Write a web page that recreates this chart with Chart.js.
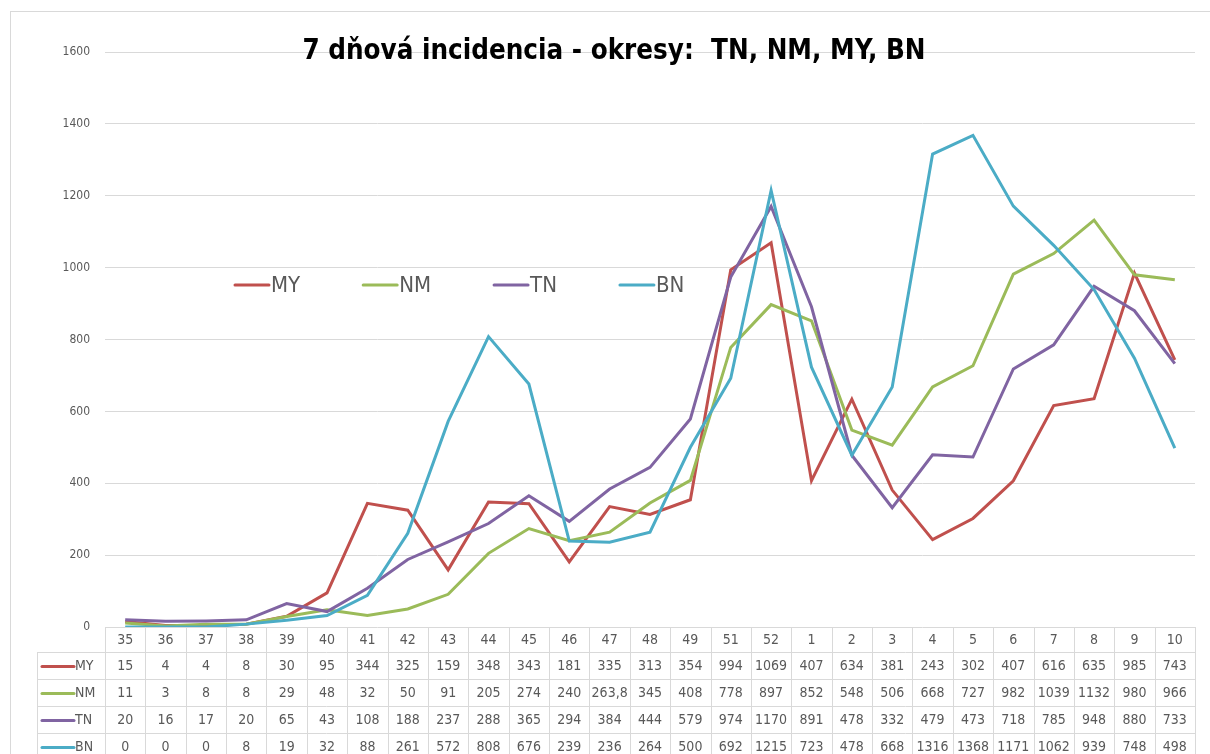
<!DOCTYPE html>
<html lang="cs">
<head>
    <meta charset="UTF-8">
    <title>7 dňová incidencia - okresy</title>
    <script src="https://cdn.jsdelivr.net/npm/chart.js@4.4.0/dist/chart.umd.min.js"></script>
    <style>
        * { margin: 0; padding: 0; box-sizing: border-box; }
        body { background: #ffffff; width: 1210px; height: 754px; overflow: hidden; }
        .chart-wrapper { position: relative; width: 1210px; height: 754px; }
    </style>
</head>
<body>
    <div class="chart-wrapper">
        <canvas id="incChart"></canvas>
    </div>

    <script>
        // data
        const weeks = ['35', '36', '37', '38', '39', '40', '41', '42', '43', '44', '45', '46', '47', '48', '49', '51', '52', '1', '2', '3', '4', '5', '6', '7', '8', '9', '10'];
        const seriesNames = ['MY', 'NM', 'TN', 'BN'];
        const valuesMY = [15, 4, 4, 8, 30, 95, 344, 325, 159, 348, 343, 181, 335, 313, 354, 994, 1069, 407, 634, 381, 243, 302, 407, 616, 635, 985, 743];
        const valuesNM = [11, 3, 8, 8, 29, 48, 32, 50, 91, 205, 274, 240, 263.8, 345, 408, 778, 897, 852, 548, 506, 668, 727, 982, 1039, 1132, 980, 966];
        const valuesTN = [20, 16, 17, 20, 65, 43, 108, 188, 237, 288, 365, 294, 384, 444, 579, 974, 1170, 891, 478, 332, 479, 473, 718, 785, 948, 880, 733];
        const valuesBN = [0, 0, 0, 8, 19, 32, 88, 261, 572, 808, 676, 239, 236, 264, 500, 692, 1215, 723, 478, 668, 1316, 1368, 1171, 1062, 939, 748, 498];
        const yTicks = [0, 200, 400, 600, 800, 1000, 1200, 1400, 1600];

        const colors = ['#c0504d', '#9bbb59', '#8064a2', '#4bacc6'];
        const allValues = [valuesMY, valuesNM, valuesTN, valuesBN];
        const textFont = "'Liberation Sans Narrow', 'DejaVu Sans Condensed', 'Open Sans', sans-serif";

        const datasets = seriesNames.map((name, i) => ({
            label: name,
            data: allValues[i],
            borderColor: colors[i],
            backgroundColor: colors[i],
            borderWidth: 3,
            pointRadius: 0,
            tension: 0,
            order: 4 - i
        }));

        const fmt = v => String(v).replace('.', ',');

        // frame, title, inner legend and data table
        const extras = {
            id: 'extras',
            beforeDraw(chart) {
                const ctx = chart.ctx;
                ctx.save();
                ctx.strokeStyle = '#d9d9d9';
                ctx.lineWidth = 1;
                ctx.strokeRect(10.5, 11.5, 1230, 800);
                ctx.restore();
            },
            afterDraw(chart) {
                const ctx = chart.ctx;
                const area = chart.chartArea;
                const xs = chart.scales.x;

                ctx.save();
                // title
                ctx.fillStyle = '#000000';
                ctx.font = "bold 27.5px " + textFont;
                ctx.textAlign = 'center';
                ctx.textBaseline = 'middle';
                ctx.fillText('7 dňová incidencia - okresy:  TN, NM, MY, BN', 614, 52);

                // legend inside plot
                ctx.font = "22px " + textFont;
                ctx.textAlign = 'left';
                let lx = 235;
                const ly = 285;
                seriesNames.forEach((name, i) => {
                    ctx.strokeStyle = colors[i];
                    ctx.lineWidth = 3;
                    ctx.lineCap = 'round';
                    ctx.beginPath();
                    ctx.moveTo(lx, ly);
                    ctx.lineTo(lx + 34, ly);
                    ctx.stroke();
                    ctx.fillStyle = '#595959';
                    ctx.fillText(name, lx + 36, ly + 1);
                    lx += 36 + ctx.measureText(name).width + 63;
                });

                // data table
                const top = area.bottom;
                const headH = 25;
                const rowH = 27;
                const labelLeft = 37;
                const bounds = [area.left];
                for (let i = 0; i < weeks.length - 1; i++) {
                    bounds.push((xs.getPixelForValue(i) + xs.getPixelForValue(i + 1)) / 2);
                }
                bounds.push(area.right);

                ctx.strokeStyle = '#d9d9d9';
                ctx.lineWidth = 1;
                ctx.lineCap = 'butt';
                ctx.beginPath();
                bounds.forEach(b => {
                    const x = Math.round(b) + 0.5;
                    ctx.moveTo(x, top);
                    ctx.lineTo(x, 760);
                });
                ctx.moveTo(labelLeft + 0.5, top + headH);
                ctx.lineTo(labelLeft + 0.5, 760);
                for (let r = 0; r <= 4; r++) {
                    const y = Math.round(top + headH + r * rowH) + 0.5;
                    ctx.moveTo(labelLeft, y);
                    ctx.lineTo(area.right, y);
                }
                ctx.stroke();

                ctx.font = "14px " + textFont;
                ctx.fillStyle = '#595959';
                ctx.textAlign = 'center';
                weeks.forEach((w, i) => {
                    ctx.fillText(w, xs.getPixelForValue(i), top + headH / 2 + 1);
                });
                seriesNames.forEach((name, r) => {
                    const cy = top + headH + r * rowH + rowH / 2 + 1;
                    allValues[r].forEach((v, i) => {
                        ctx.fillText(fmt(v), xs.getPixelForValue(i), cy);
                    });
                    ctx.strokeStyle = colors[r];
                    ctx.lineWidth = 3;
                    ctx.lineCap = 'round';
                    ctx.beginPath();
                    ctx.moveTo(42, cy);
                    ctx.lineTo(74, cy);
                    ctx.stroke();
                    ctx.textAlign = 'left';
                    ctx.fillText(name, 75, cy);
                    ctx.textAlign = 'center';
                });
                ctx.restore();
            }
        };

        const config = {
            type: 'line',
            data: { labels: weeks, datasets: datasets },
            options: {
                responsive: false,
                animation: false,
                layout: {
                    padding: { left: 10, right: 15, top: 52, bottom: 127 }
                },
                plugins: {
                    legend: { display: false },
                    title: { display: false },
                    tooltip: { enabled: false }
                },
                scales: {
                    x: {
                        display: false,
                        offset: true
                    },
                    y: {
                        min: 0,
                        max: 1600,
                        afterFit: s => { s.width = 95; },
                        afterBuildTicks: s => { s.ticks = yTicks.map(v => ({ value: v })); },
                        border: { display: false },
                        grid: { color: '#d9d9d9', drawTicks: false },
                        ticks: {
                            color: '#595959',
                            padding: 15,
                            font: { family: textFont, size: 12 },
                            callback: v => String(v)
                        }
                    }
                }
            }
        };

        const canvas = document.getElementById('incChart');
        canvas.width = 1210;
        canvas.height = 754;
        const chart = new Chart(canvas.getContext('2d'), Object.assign(config, { plugins: [extras] }));
    </script>
</body>
</html>
